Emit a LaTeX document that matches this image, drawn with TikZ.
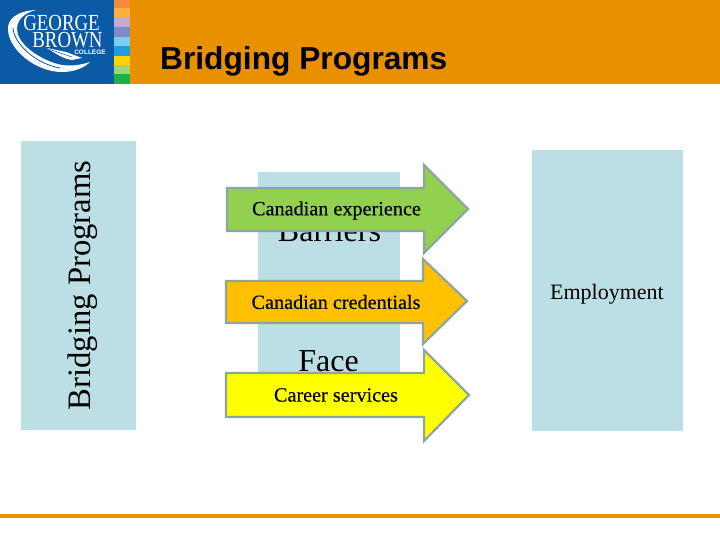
\documentclass[tikz,border=0pt]{standalone}
\usepackage{fontspec}
\setmainfont{Liberation Serif}
\newfontfamily\titlefont{Liberation Sans}
\newfontfamily\armfont[FakeBold=0.3]{Liberation Serif}
\definecolor{hdr}{HTML}{E99000}
\definecolor{logoblue}{HTML}{0B5AA6}
\definecolor{paleblue}{HTML}{BBDFE4}
\definecolor{edgegray}{HTML}{8FA69E}
\definecolor{armgreen}{RGB}{146,208,80}
\definecolor{armorange}{RGB}{255,192,0}
\definecolor{armyellow}{RGB}{255,255,0}
\tikzset{x=1pt,y=-1pt,
  block/.style={fill=paleblue,draw=none},
  arrowshape/.style={draw=edgegray,line width=2.2pt,line join=miter},
  armlabel/.style={font=\armfont\fontsize{20.2}{24}\selectfont,text=black,inner sep=0pt,anchor=center},
  biglabel/.style={font=\fontsize{32}{36}\selectfont,text=black,inner sep=0pt,anchor=center},
  logotext/.style={text=white,inner sep=0pt,anchor=center}}
\begin{document}
\begin{tikzpicture}
\useasboundingbox (0,0) rectangle (720,540);
\fill[white] (0,0) rectangle (720,540);
% header
\fill[hdr] (0,0) rectangle (720,84);
\fill[logoblue] (0,0) rectangle (114,84);
\foreach \ya/\yb/\c in {0/8/F58A3C,8/17/FBB040,17/27/C4A9D8,27/37/7F8CC4,37/46/7FCDEE,46/56/1C9FDC,56/65/FFD200,65/74/A6D26E,74/84/1EB04B}{
  \definecolor{stripc}{HTML}{\c}
  \fill[stripc] (114,\ya) rectangle (130,\yb);
}
% logo swoosh
\fill[white] (36,10) .. controls (16,11) and (7,20) .. (8,30)
  .. controls (9,50) and (36,72) .. (62,72)
  .. controls (74,72) and (84,68) .. (90,62)
  .. controls (78,66) and (66,67) .. (54,63)
  .. controls (34,56) and (17,42) .. (17,29)
  .. controls (17,20) and (24,13) .. (36,10) -- cycle;
\draw[logoblue,line width=.8pt] (13,28) .. controls (14,44) and (36,64) .. (60,68);
\fill[white] (47,48) -- (66,52) -- (82,58) -- (72,60) .. controls (64,59) and (56,54) .. (47,48) -- cycle;
\draw[logoblue,line width=.5pt] (50,49.5) -- (72,57);
\node[logotext,xscale=.82,font=\fontsize{23}{24}\selectfont] (logoa) at (61.5,23.5) {GEORGE};
\node[logotext,xscale=.82,font=\fontsize{23}{24}\selectfont] (logob) at (67.5,40.5) {BROWN};
\node[logotext,font=\titlefont\bfseries\fontsize{6.5}{7}\selectfont] (logoc) at (90,52) {COLLEGE};
% title
\node[font=\titlefont\bfseries\fontsize{31.7}{36}\selectfont,anchor=west,inner sep=0pt] (title) at (160,61) {Bridging Programs};
% blocks
\fill[block] (21,141) rectangle (136,430);
\fill[block] (258,172) rectangle (400,400);
\fill[block] (532,150) rectangle (683,431);
\node[rotate=90,font=\fontsize{32.7}{36}\selectfont,inner sep=0pt] (bridge) at (83,285.5) {Bridging Programs};
\node[biglabel] (barriers) at (329.5,231) {Barriers};
\node[biglabel] (face) at (328.5,361) {Face};
\node[font=\fontsize{22}{26}\selectfont,inner sep=0pt] (employ) at (607,294) {Employment};
% arrows
\draw[arrowshape,fill=armgreen] (227,188) -- (424,188) -- (424,165) -- (468,209) -- (424,253) -- (424,231) -- (227,231) -- cycle;
\draw[arrowshape,fill=armorange] (226,281) -- (423,281) -- (423,259) -- (467,301) -- (423,344) -- (423,323) -- (226,323) -- cycle;
\draw[arrowshape,fill=armyellow] (226,373) -- (424,373) -- (424,350) -- (469,395) -- (424,441) -- (424,417) -- (226,417) -- cycle;
\node[armlabel] (exp) at (336.5,210.5) {Canadian experience};
\node[armlabel] (cred) at (336,302) {Canadian credentials};
\node[armlabel] (serv) at (336,395) {Career services};
% footer
\fill[hdr] (0,514) rectangle (720,518);
\end{tikzpicture}
\end{document}
